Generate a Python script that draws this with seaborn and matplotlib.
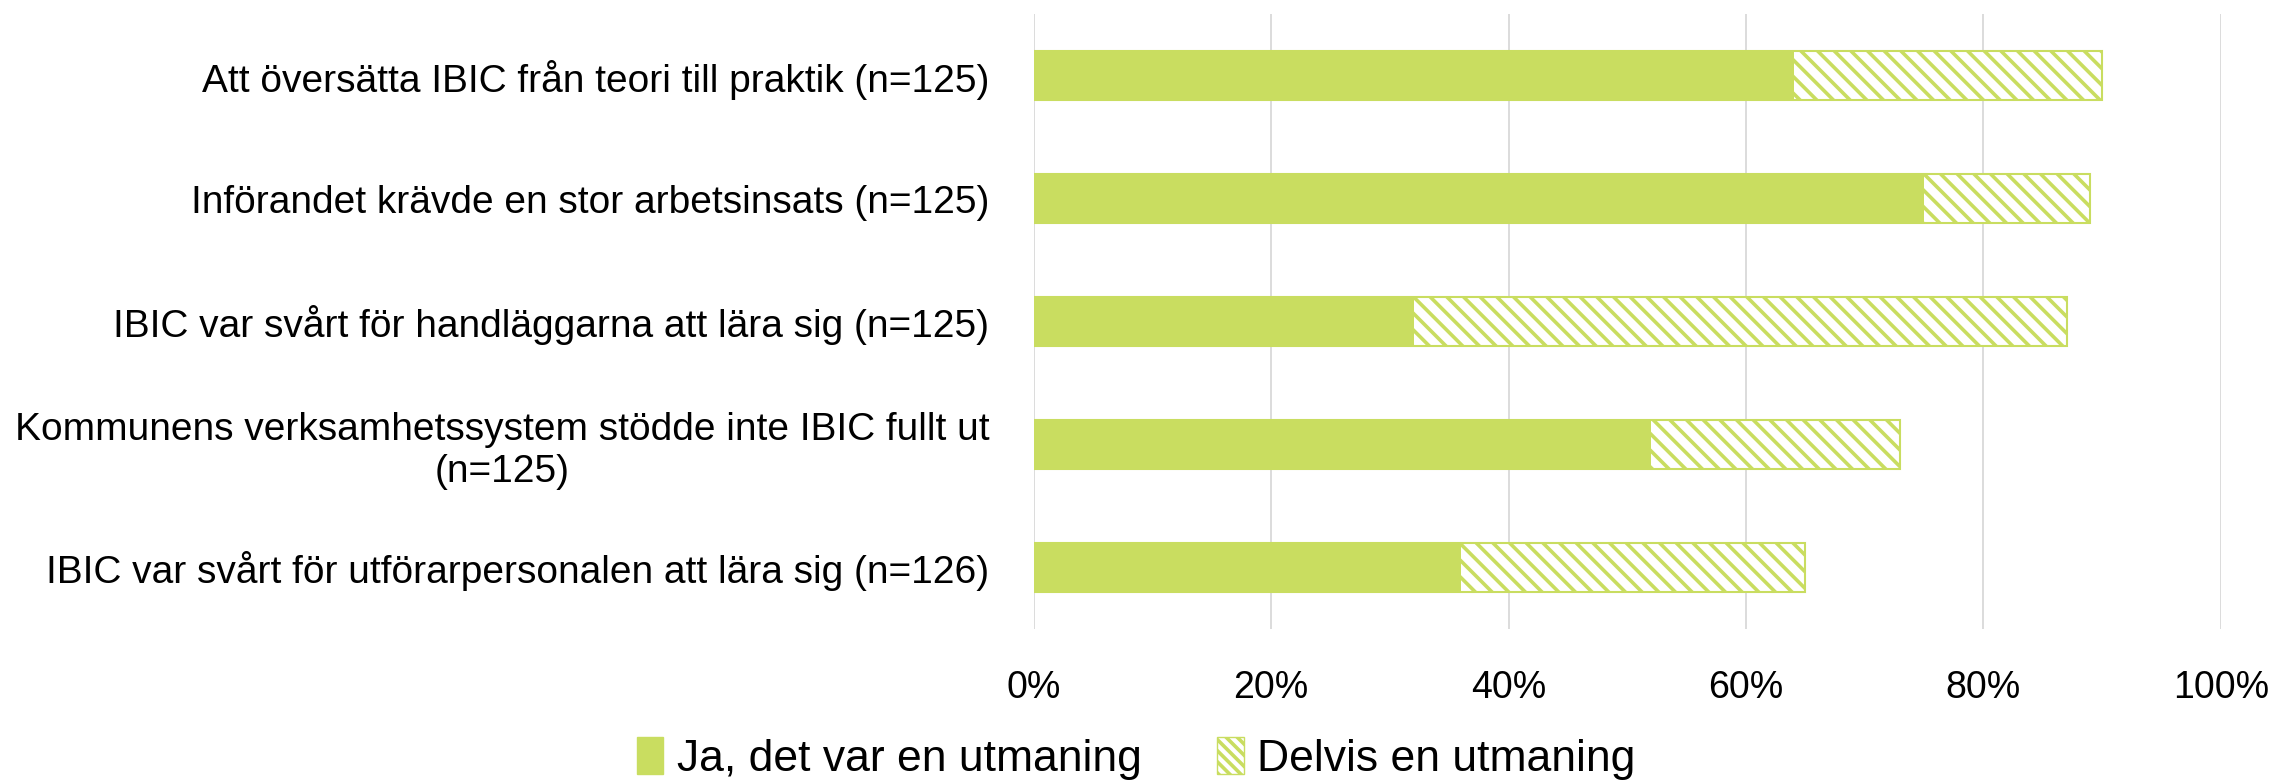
import pandas as pd
import matplotlib
matplotlib.use("Agg")
import matplotlib.pyplot as plt
import matplotlib.patches as mpatches
import seaborn as sns
from matplotlib.ticker import PercentFormatter

# ---------------------------
# Data
# ---------------------------
labels = [
    "Att översätta IBIC från teori till praktik (n=125)",
    "Införandet krävde en stor arbetsinsats (n=125)",
    "IBIC var svårt för handläggarna att lära sig (n=125)",
    "Kommunens verksamhetssystem stödde inte IBIC fullt ut\n(n=125)",
    "IBIC var svårt för utförarpersonalen att lära sig (n=126)",
]
ja = [0.64, 0.75, 0.32, 0.52, 0.36]
delvis = [0.26, 0.14, 0.55, 0.21, 0.29]
series_names = ["Ja, det var en utmaning", "Delvis en utmaning"]
xticks = [0, 0.2, 0.4, 0.6, 0.8, 1.0]

df = pd.DataFrame({"label": labels, "ja": ja, "delvis": delvis})
df["total"] = df["ja"] + df["delvis"]

green = "#C9DD60"
grid_gray = "#D9D9D9"

# ---------------------------
# Plot
# ---------------------------
sns.set_theme(style="white")
plt.rcParams["font.family"] = ["Liberation Sans", "DejaVu Sans"]
plt.rcParams["text.color"] = "black"
plt.rcParams["xtick.color"] = "black"
plt.rcParams["ytick.color"] = "black"
plt.rcParams["hatch.linewidth"] = 2.6
plt.rcParams["hatch.color"] = green

fig = plt.figure(figsize=(22.72, 7.84), dpi=100)
ax = fig.add_axes([0.455, 0.198, 0.5225, 0.784])

# hatched total bar first, solid part drawn on top
sns.barplot(data=df, x="total", y="label", orient="h", color="white",
            width=0.4, ax=ax, edgecolor=green, linewidth=1.5)
for p in ax.patches:
    p.set_facecolor("white")
    p.set_hatch("\\\\")
    p.set_edgecolor(green)

sns.barplot(data=df, x="ja", y="label", orient="h", color=green,
            saturation=1, width=0.4, ax=ax, linewidth=0)

ax.set_xlim(0, 1)
ax.set_ylim(4.5, -0.5)
ax.set_xticks(xticks)
ax.xaxis.set_major_formatter(PercentFormatter(1.0, decimals=0))
ax.grid(axis="x", color=grid_gray, linewidth=1.3)
ax.set_axisbelow(True)
ax.set_xlabel("")
ax.set_ylabel("")
sns.despine(ax=ax, left=True, bottom=True)
ax.tick_params(axis="x", length=0, pad=30, labelsize=27)
ax.tick_params(axis="y", length=0, pad=32, labelsize=28)
for t in ax.get_yticklabels():
    t.set_multialignment("center")

handles = [
    mpatches.Patch(facecolor=green, edgecolor=green, label=series_names[0]),
    mpatches.Patch(facecolor="white", edgecolor=green, hatch="\\\\\\", label=series_names[1]),
]
fig.legend(handles=handles, loc="center", bbox_to_anchor=(0.5, 0.033),
           ncol=2, frameon=False, fontsize=32, handlelength=0.6,
           handleheight=0.9, handletextpad=0.3, columnspacing=1.7)

fig.savefig("out.png", dpi=100)
